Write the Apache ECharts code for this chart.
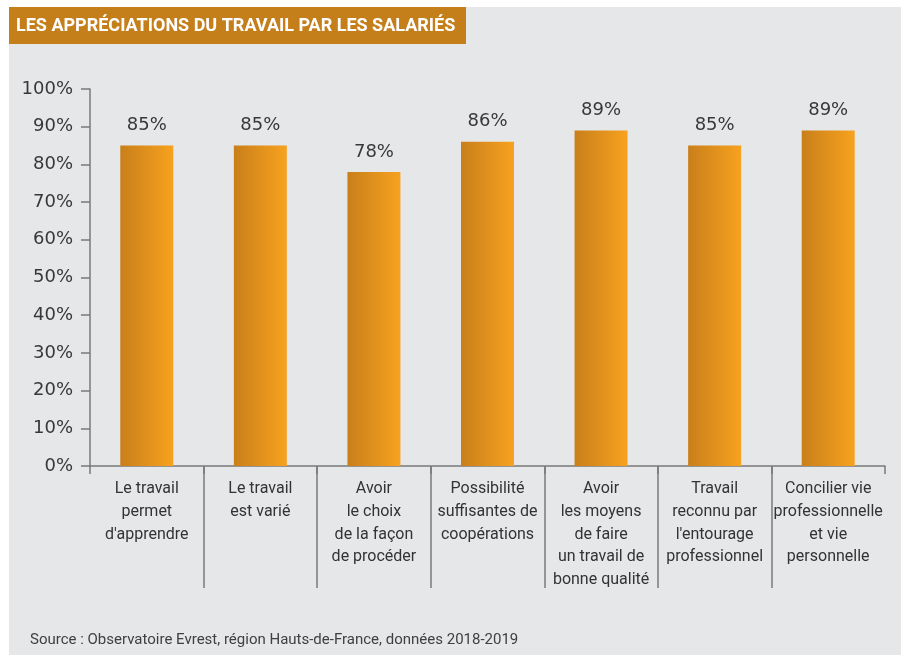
<!DOCTYPE html>
<html>
<head>
<meta charset="utf-8">
<script src="https://cdn.jsdelivr.net/npm/echarts@6/dist/echarts.min.js"></script>
<style>
  html, body { margin: 0; padding: 0; background: #ffffff; }
  #wrap { position: relative; width: 907px; height: 660px; }
  #chart { position: absolute; left: 9px; top: 7px; width: 892px; height: 648px; background: #e6e7e9; }
</style>
</head>
<body>
<div id="wrap"><div id="chart"></div></div>
<script>
// données
const titre = 'LES APPRÉCIATIONS DU TRAVAIL PAR LES SALARIÉS';
const source = 'Source : Observatoire Evrest, région Hauts-de-France, données 2018-2019';
const categories = [
  'Le travail\npermet\nd\'apprendre',
  'Le travail\nest varié',
  'Avoir\nle choix\nde la façon\nde procéder',
  'Possibilité\nsuffisantes de\ncoopérations',
  'Avoir\nles moyens\nde faire\nun travail de\nbonne qualité',
  'Travail\nreconnu par\nl\'entourage\nprofessionnel',
  'Concilier vie\nprofessionnelle\net vie\npersonnelle'
];
const valeurs = [85, 85, 78, 86, 89, 85, 89];

const chart = echarts.init(document.getElementById('chart'), null, { renderer: 'canvas' });

const fontTxt = 'Roboto, sans-serif';

const option = {
  animation: false,
  backgroundColor: '#e6e7e9',
  graphic: [
    {
      type: 'rect',
      left: 0, top: 0,
      shape: { width: 457, height: 37 },
      style: { fill: '#c57f1a' }
    },
    {
      type: 'text',
      left: 7, top: 10,
      style: {
        text: titre,
        fill: '#ffffff',
        font: 'bold 18px ' + fontTxt
      }
    },
    {
      type: 'text',
      left: 21, top: 626,
      style: {
        text: source,
        fill: '#404040',
        font: '15px ' + fontTxt
      }
    }
  ],
  grid: [
    { left: 81, right: 16, top: 82, bottom: 189 },
    { left: 81, right: 16, top: 459, height: 122 }
  ],
  xAxis: [
    {
      type: 'category',
      gridIndex: 0,
      data: categories,
      axisLine: { lineStyle: { color: '#7a7a7a', width: 1.5 } },
      axisTick: { show: true, length: 8, lineStyle: { color: '#7a7a7a', width: 1.5 } },
      axisLabel: {
        color: '#333333',
        fontFamily: fontTxt,
        fontSize: 16,
        lineHeight: 22.6,
        margin: 12,
        interval: 0
      }
    },
    {
      type: 'category',
      gridIndex: 1,
      data: categories,
      axisLine: { show: false },
      axisTick: { show: false },
      axisLabel: { show: false },
      splitLine: {
        show: true,
        showMinLine: false,
        showMaxLine: false,
        lineStyle: { color: '#7a7a7a', width: 1.5 }
      }
    }
  ],
  yAxis: [
    {
      type: 'value',
      gridIndex: 0,
      min: 0,
      max: 100,
      interval: 10,
      axisLine: { show: true, lineStyle: { color: '#7a7a7a', width: 1.5 } },
      axisTick: { show: true, length: 9, lineStyle: { color: '#7a7a7a', width: 1.5 } },
      axisLabel: {
        formatter: '{value}%',
        color: '#383838',
        fontFamily: '"DejaVu Sans", sans-serif',
        fontSize: 18,
        margin: 17
      },
      splitLine: { show: false }
    },
    { type: 'value', gridIndex: 1, show: false }
  ],
  series: [
    {
      type: 'bar',
      xAxisIndex: 0,
      yAxisIndex: 0,
      data: valeurs,
      barWidth: 53,
      itemStyle: {
        color: new echarts.graphic.LinearGradient(0, 0, 1, 0, [
          { offset: 0, color: '#c97f1a' },
          { offset: 1, color: '#f7a21f' }
        ])
      },
      label: {
        show: true,
        position: 'top',
        distance: 11,
        formatter: '{c}%',
        color: '#383838',
        fontFamily: '"DejaVu Sans", sans-serif',
        fontSize: 18
      }
    }
  ]
};

chart.setOption(option);
</script>
</body>
</html>
